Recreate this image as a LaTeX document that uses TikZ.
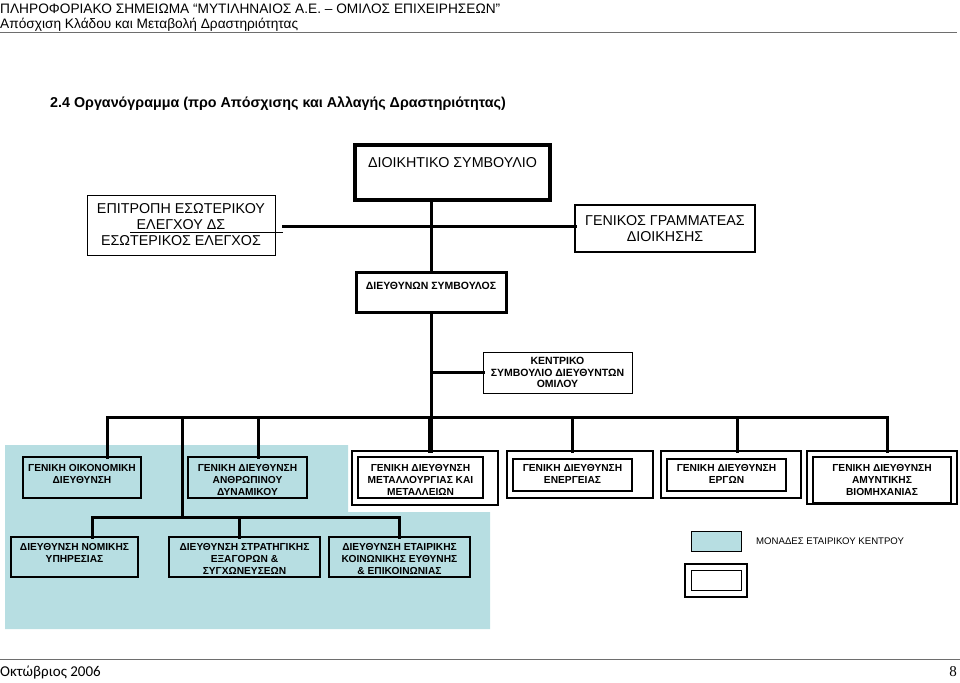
\documentclass[tikz,border=0pt]{standalone}
\usepackage{fontspec}
\setmainfont{Liberation Sans}
\newfontfamily\footfont{Carlito}
\newfontfamily\numfont{Liberation Serif}
\definecolor{unitblue}{RGB}{183,222,226}
\definecolor{rulegray}{RGB}{110,110,110}
\begin{document}
\begin{tikzpicture}[x=1pt,y=-1pt,
  box/.style={draw, anchor=north west, inner sep=0pt, outer sep=0pt, align=center, line width=1pt},
  big/.style={box, font=\fontsize{14.3}{16}\selectfont},
  unit/.style={box, line width=1.3pt, font=\bfseries\fontsize{10.2}{12}\selectfont},
  link/.style={line width=3pt, line cap=rect}]
\useasboundingbox (0,0) rectangle (960,682);
\node[anchor=base west, inner sep=0pt, font=\fontsize{13.7}{16}\selectfont] (head) at (0,13.5) {ΠΛΗΡΟΦΟΡΙΑΚΟ ΣΗΜΕΙΩΜΑ “ΜΥΤΙΛΗΝΑΙΟΣ Α.Ε. – ΟΜΙΛΟΣ ΕΠΙΧΕΙΡΗΣΕΩΝ”};
\node[anchor=base west, inner sep=0pt, font=\fontsize{13.7}{16}\selectfont] (subhead) at (0,28.5) {Απόσχιση Κλάδου και Μεταβολή Δραστηριότητας};
\draw[rulegray, line width=1pt] (0,33) -- (957,33);
\node[anchor=base west, inner sep=0pt, font=\bfseries\fontsize{14.3}{18}\selectfont] (title) at (50,108) {2.4 Οργανόγραμμα (προ Απόσχισης και Αλλαγής Δραστηριότητας)};
\fill[unitblue] (5,445) -- (348,445) -- (348,512) -- (490,512) -- (490,629) -- (5,629) -- cycle;
\node[big, line width=4pt, minimum width=195pt, text height=22pt, text depth=33pt] (board) at (355,145) {ΔΙΟΙΚΗΤΙΚΟ ΣΥΜΒΟΥΛΙΟ};
\node[big, minimum width=188pt, minimum height=60pt] (audit) at (87,195) {ΕΠΙΤΡΟΠΗ ΕΣΩΤΕΡΙΚΟΥ\\ΕΛΕΓΧΟΥ ΔΣ\\ΕΣΩΤΕΡΙΚΟΣ ΕΛΕΓΧΟΣ};
\node[big, line width=1.2pt, minimum width=180pt, minimum height=47pt] (secretary) at (575,205) {ΓΕΝΙΚΟΣ ΓΡΑΜΜΑΤΕΑΣ\\ΔΙΟΙΚΗΣΗΣ};
\node[unit, line width=3pt, font=\bfseries\fontsize{10.5}{12}\selectfont, minimum width=150pt, text height=17pt, text depth=23pt] (ceo) at (356,272) {ΔΙΕΥΘΥΝΩΝ ΣΥΜΒΟΥΛΟΣ};
\node[unit, line width=1pt, font=\bfseries\fontsize{10.5}{11.5}\selectfont, minimum width=149pt, minimum height=41pt] (council) at (483,352) {ΚΕΝΤΡΙΚΟ\\ΣΥΜΒΟΥΛΙΟ ΔΙΕΥΘΥΝΤΩΝ\\ΟΜΙΛΟΥ};
\node[unit, fill=unitblue, minimum width=118pt, text height=26.5pt, text depth=14.5pt] (finance) at (23,457) {ΓΕΝΙΚΗ ΟΙΚΟΝΟΜΙΚΗ\\ΔΙΕΥΘΥΝΣΗ};
\node[unit, fill=unitblue, minimum width=119pt, text height=38.5pt, text depth=2.5pt] (hr) at (188,457) {ΓΕΝΙΚΗ ΔΙΕΥΘΥΝΣΗ\\ΑΝΘΡΩΠΙΝΟΥ\\ΔΥΝΑΜΙΚΟΥ};
\node[unit, fill=white, minimum width=146pt, minimum height=54pt] (metalout) at (352,451) {};
\node[unit, minimum width=125pt, text height=38.5pt, text depth=2.5pt] (metal) at (358,457) {ΓΕΝΙΚΗ ΔΙΕΥΘΥΝΣΗ\\ΜΕΤΑΛΛΟΥΡΓΙΑΣ ΚΑΙ\\ΜΕΤΑΛΛΕΙΩΝ};
\node[unit, minimum width=146pt, minimum height=47pt] (energyout) at (507,451) {};
\node[unit, minimum width=119pt, text height=24.5pt, text depth=7.5pt] (energy) at (513,459) {ΓΕΝΙΚΗ ΔΙΕΥΘΥΝΣΗ\\ΕΝΕΡΓΕΙΑΣ};
\node[unit, minimum width=140pt, minimum height=47pt] (worksout) at (661,451) {};
\node[unit, minimum width=119pt, text height=24.5pt, text depth=7.5pt] (works) at (667,459) {ΓΕΝΙΚΗ ΔΙΕΥΘΥΝΣΗ\\ΕΡΓΩΝ};
\node[unit, minimum width=150pt, minimum height=53pt] (defenseout) at (807,451) {};
\node[unit, minimum width=138pt, text height=38.5pt, text depth=7.5pt] (defense) at (813,457) {ΓΕΝΙΚΗ ΔΙΕΥΘΥΝΣΗ\\ΑΜΥΝΤΙΚΗΣ\\ΒΙΟΜΗΧΑΝΙΑΣ};
\node[unit, fill=unitblue, minimum width=127pt, text height=25.5pt, text depth=14.5pt] (legal) at (11,537) {ΔΙΕΥΘΥΝΣΗ ΝΟΜΙΚΗΣ\\ΥΠΗΡΕΣΙΑΣ};
\node[unit, fill=unitblue, minimum width=151pt, text height=37.5pt, text depth=2.5pt] (mna) at (169,537) {ΔΙΕΥΘΥΝΣΗ ΣΤΡΑΤΗΓΙΚΗΣ\\ΕΞΑΓΟΡΩΝ \&\\ΣΥΓΧΩΝΕΥΣΕΩΝ};
\node[unit, fill=unitblue, minimum width=141pt, text height=37.5pt, text depth=2.5pt] (csr) at (329,537) {ΔΙΕΥΘΥΝΣΗ ΕΤΑΙΡΙΚΗΣ\\ΚΟΙΝΩΝΙΚΗΣ ΕΥΘΥΝΗΣ\\\& ΕΠΙΚΟΙΝΩΝΙΑΣ};
\node[box, fill=unitblue, minimum width=50pt, minimum height=20pt] (keyunit) at (691,531) {};
\node[anchor=west, inner sep=0pt, font=\fontsize{9.6}{12}\selectfont] (keytext) at (756,541) {ΜΟΝΑΔΕΣ ΕΤΑΙΡΙΚΟΥ ΚΕΝΤΡΟΥ};
\node[box, line width=1.3pt, minimum width=62pt, minimum height=33pt] (keyout) at (685,564) {};
\node[box, minimum width=50pt, minimum height=20pt] (keyin) at (691,570) {};
\coordinate (auditend) at (283,226);
\coordinate (auditline) at (130,232);
\draw[line width=0.8pt] (auditline) -- (auditline -| auditend);
\draw[link] (auditend) -- (auditend -| secretary.west);
\draw[link] (ceo.north) -- (ceo.north |- board.south);
\draw[link] (ceo.south) -- (ceo.south |- metalout.north);
\draw[link] (ceo.south |- council.west) -- (council.west);
\foreach \n/\x in {finance/107, hr/258, metalout/429, energyout/572, worksout/737, defenseout/887}{
  \coordinate (t\n) at (\x,417);
  \draw[link] (t\n) -- (t\n |- \n.north);
}
\draw[link] (tfinance) -- (tdefenseout);
\coordinate (tstaff) at (182,417);
\coordinate (sbus) at (182,517);
\draw[link] (tstaff) -- (sbus);
\foreach \n/\x in {legal/92, mna/239, csr/399}{
  \coordinate (s\n) at (\x,517);
  \draw[link] (s\n) -- (s\n |- \n.north);
}
\draw[link] (slegal) -- (scsr);
\draw[rulegray, line width=1pt] (0,659) -- (960,659);
\node[anchor=base west, inner sep=0pt, font=\footfont\fontsize{15}{17}\selectfont] (date) at (0,676) {Οκτώβριος 2006};
\node[anchor=base east, inner sep=0pt, font=\numfont\fontsize{15}{17}\selectfont] (page) at (957,676) {8};
\end{tikzpicture}
\end{document}
